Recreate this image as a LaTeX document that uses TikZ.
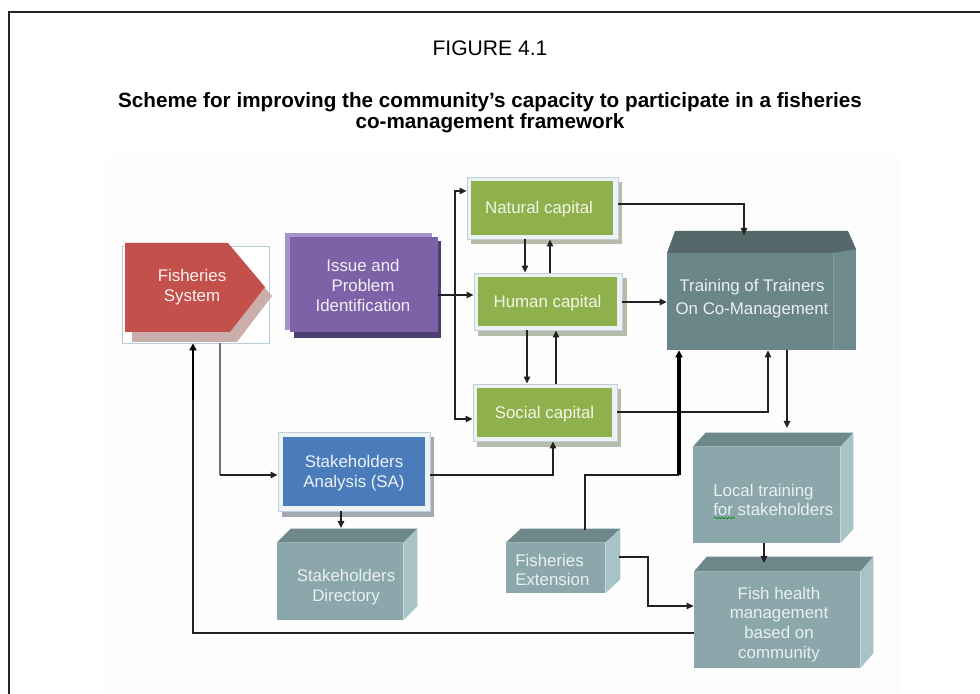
\documentclass[tikz,border=0pt]{standalone}
\usepackage{fontspec}
\setmainfont{Liberation Sans}
\usetikzlibrary{fit,arrows.meta,decorations.pathmorphing}

\definecolor{panelbg}{HTML}{FDFDFD}
\definecolor{fsred}{HTML}{C4504B}
\definecolor{fsshadow}{HTML}{C9AEAC}
\definecolor{fsline}{HTML}{B9CDD6}
\definecolor{purp}{HTML}{7D62A8}
\definecolor{purplight}{HTML}{A693C9}
\definecolor{purpdark}{HTML}{4F3F72}
\definecolor{ggreen}{HTML}{8EB04D}
\definecolor{gtext}{HTML}{F4F6E4}
\definecolor{gframe}{HTML}{EDF2F5}
\definecolor{gframeline}{HTML}{C3CFD8}
\definecolor{gshadow}{HTML}{B7BBA9}
\definecolor{sablue}{HTML}{4A7BBA}
\definecolor{sashadow}{HTML}{A3A9B3}
\definecolor{tealfront}{HTML}{8BA7AB}
\definecolor{tealtop}{HTML}{6E878B}
\definecolor{tealside}{HTML}{A7C3C6}
\definecolor{tealtext}{HTML}{E8F0F1}
\definecolor{trfront}{HTML}{6A8688}
\definecolor{trtop}{HTML}{55696B}
\definecolor{trside}{HTML}{6F8B8D}
\definecolor{lineclr}{HTML}{222222}

\newcommand\boxfont{\fontsize{12}{14}\selectfont}

% side and top faces of a cube whose front face is node #1
\newcommand\cubesides[5]{%
  \fill[#4] (#1.north west) -- ++(#2,-#3) -- ([shift={(#2,-#3)}]#1.north east) -- (#1.north east) -- cycle;
  \fill[#5] (#1.north east) -- ++(#2,-#3) -- ([shift={(#2,-#3)}]#1.south east) -- (#1.south east) -- cycle;
}

\begin{document}
\begin{tikzpicture}[x=0.025cm,y=-0.025cm,
  facebox/.style={inner sep=0pt},
  label/.style={inner sep=0pt, align=center, font=\boxfont, yshift=-1.4pt},
  framebox/.style={inner sep=0pt, fill=gframe, draw=gframeline, line width=0.6pt},
  tealbox/.style={inner sep=0pt, fill=tealfront},
  arr/.style={draw=lineclr, line width=1.2pt, -{Triangle[length=5pt,width=4.5pt]}},
  thinarr/.style={draw=lineclr, line width=0.8pt, -{Triangle[length=5pt,width=4.5pt]}},
  thinline/.style={draw=lineclr, line width=0.8pt},
  thickarr/.style={draw=black, line width=2.2pt, -{Triangle[length=5pt,width=5pt]}}]
\useasboundingbox (0,0) rectangle (980,694);

% panel behind the scheme and outer rule
\fill[panelbg] (106,156) rectangle (900,694);
\draw[line width=1.4pt, black!85] (9,694) -- (9,12) -- (980,12);

% headings
\node[font=\fontsize{15}{17}\selectfont] (fig) at (490,48) {FIGURE 4.1};
\node[font=\fontsize{14.7}{15}\selectfont\bfseries, align=center] (title) at (490,113)
  {Scheme for improving the community’s capacity to participate in a fisheries\\co-management framework};

% Fisheries System (pentagon arrow)
\node[fit={(122,246)(269,343)}, inner sep=0pt, fill=white, draw=fsline, line width=0.6pt] (fsf) {};
\fill[fsshadow] (132,253) -- (235,253) -- (272,296) -- (237,342) -- (132,342) -- cycle;
\fill[fsred] (125,243) -- (228,243) -- (265,287) -- (230,332) -- (125,332) -- cycle;
\node[fit={(125,243)(259,327)}, facebox] (fs) {};
\node[label, text=white!92!fsred] (fs-t) at (fs.center) {Fisheries\\System};

% Issue and Problem Identification
\fill[purplight] (285,233) rectangle (432,330);
\fill[purpdark] (294,241) rectangle (441,338);
\node[fit={(290,237)(438,332)}, facebox, fill=purp] (iss) {};
\node[label, text=white!90!purp] (iss-t) at ([shift={(-1,-1)}]iss.center) {Issue and\\Problem\\Identification};

% capital boxes
\fill[gshadow] (471,182) rectangle (622,244);
\node[fit={(467,177)(618,239)}, framebox] (natf) {};
\node[fit={(471,181)(613,235)}, facebox, fill=ggreen] (nat) {};
\node[label, text=gtext] (nat-t) at ([shift={(-3,-1)}]nat.center) {Natural capital};

\fill[gshadow] (478,278) rectangle (627,336);
\node[fit={(474,273)(622,330)}, framebox] (humf) {};
\node[fit={(478,277)(617,326)}, facebox, fill=ggreen] (hum) {};
\node[label, text=gtext] (hum-t) at (hum.center) {Human capital};

\fill[gshadow] (477,389) rectangle (621,447);
\node[fit={(473,384)(617,441)}, framebox] (socf) {};
\node[fit={(477,388)(612,437)}, facebox, fill=ggreen] (soc) {};
\node[label, text=gtext] (soc-t) at (soc.center) {Social capital};

% Stakeholders Analysis
\fill[sashadow] (282,437) rectangle (434,517);
\node[fit={(278,432)(430,511)}, framebox] (saf) {};
\node[fit={(283,437)(425,506)}, facebox, fill=sablue] (sa) {};
\node[label, text=white!90!sablue] (sa-t) at (sa.center) {Stakeholders\\Analysis (SA)};

% Training of Trainers block
\fill[trside] (833,249) rectangle (856,350);
\fill[trtop] (667,253) -- (675,231) -- (848,231) -- (856,249) -- (833,253) -- cycle;
\node[fit={(667,253)(833,350)}, facebox, fill=trfront] (train) {};
\draw[white!15!trside, line width=0.6pt] (train.north east) -- (train.south east);
\node[label, text=white!88!trfront, font=\fontsize{12}{16.5}\selectfont] (train-t) at (752,296.5)
  {Training of Trainers\\On Co-Management};

% teal blocks
\node[fit={(277,543)(403,620)}, tealbox] (dir) {};
\cubesides{dir}{14}{14}{tealtop}{tealside}
\node[label, text=tealtext] (dir-t) at (346,585) {Stakeholders\\Directory};

\node[fit={(693,447)(840,543)}, tealbox] (loc) {};
\cubesides{loc}{13}{14}{tealtop}{tealside}
\node[anchor=west, align=left, font=\boxfont, text=tealtext, inner sep=0pt] (loc-t) at (713,500)
  {Local training\\for stakeholders};
\draw[green!55!black, line width=0.4pt, decorate,
      decoration={snake, amplitude=0.7pt, segment length=2.5pt}] (714,518) -- (735,518);

\node[fit={(694,572)(860,668)}, tealbox] (fish) {};
\cubesides{fish}{13}{15}{tealtop}{tealside}
\node[label, text=tealtext] (fish-t) at (779,622.5) {Fish health\\management\\based on\\community};

\node[fit={(506,543)(605,593)}, tealbox] (fe) {};
\cubesides{fe}{15}{14}{tealtop}{tealside}
\node[anchor=west, align=left, font=\boxfont, text=tealtext, inner sep=0pt] (fe-t) at (515,570)
  {Fisheries\\Extension};

% connection points
\coordinate (bus) at (455,295);
\coordinate (trin) at (744,235);
\coordinate (locin) at (787,428);
\coordinate (fishin) at (764,563);
\coordinate (dirin) at (341,528);
\coordinate (fetop) at (585,530);
\coordinate (fejoin) at (679,475);
\coordinate (feside) at (619,557);

% connectors
\draw[arr] (iss.east |- bus) -- (humf.west |- bus);
\draw[thinarr] (bus) |- (natf.west |- 0,191);
\draw[thinarr] (bus) |- (socf.west |- 0,419);

\draw[arr] (natf.south -| 525,0) -- (humf.north -| 525,0);
\draw[arr] (humf.north -| 550,0) -- (natf.south -| 550,0);
\draw[arr] (humf.south -| 527,0) -- (socf.north -| 527,0);
\draw[arr] (socf.north -| 556,0) -- (humf.south -| 556,0);

\draw[arr] (humf.east |- 0,302) -- (train.west |- 0,302);
\draw[arr] (natf.east |- 0,204) -| (trin);
\draw[thinarr] (socf.east |- 0,412) -| (train.south -| 768,0);
\draw[arr] (train.south -| locin) -- (locin);

\draw[thinline] (fetop) |- (fejoin);
\draw[thickarr] (fejoin) -- (train.south -| fejoin);

\draw[thinarr] (saf.east |- 0,475) -| (socf.south -| 553,0);
\draw[draw=black!55, line width=0.8pt] (fsf.south -| 220,0) -- (220,475);
\draw[arr] (220,475) -- (saf.west |- 0,475);
\draw[arr] (saf.south -| dirin) -- (dirin);

\draw[arr] (loc.south -| fishin) -- (fishin);
\draw[thinarr] (feside) -| (648,606) -- (fish.west |- 0,606);
\draw[thinline, line width=1.2pt] (fish.west |- 0,633) -| (193,400);
\draw[thickarr, line width=1.8pt] (193,400) -- (fsf.south -| 193,0);

\end{tikzpicture}
\end{document}
